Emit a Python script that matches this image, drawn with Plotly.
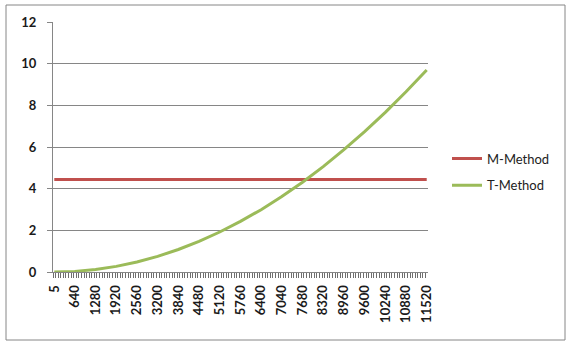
import plotly.graph_objects as go

# Data
categories = ["5", "640", "1280", "1920", "2560", "3200", "3840", "4480", "5120",
              "5760", "6400", "7040", "7680", "8320", "8960", "9600", "10240",
              "10880", "11520"]
x_values = [5, 640, 1280, 1920, 2560, 3200, 3840, 4480, 5120, 5760, 6400, 7040,
            7680, 8320, 8960, 9600, 10240, 10880, 11520]
m_method = [4.44] * 19
t_method = [0.0, 0.03, 0.12, 0.27, 0.48, 0.75, 1.08, 1.47, 1.92, 2.43, 2.99,
            3.62, 4.31, 5.06, 5.87, 6.74, 7.66, 8.65, 9.70]
y_ticks = [0, 2, 4, 6, 8, 10, 12]

W, H = 568, 343
L, R, T, B = 53, 140, 22, 71
pw, ph = W - L - R, H - T - B

FAM = "Lato, 'Open Sans', sans-serif"

fig = go.Figure()
fig.add_trace(go.Scatter(x=x_values, y=m_method, mode="lines", name="M-Method",
                         line=dict(color="#C0504D", width=3), legendgroup="m"))
fig.add_trace(go.Scatter(x=x_values, y=t_method, mode="lines", name="T-Method",
                         line=dict(color="#9BBB59", width=3), legendgroup="t"))

fig.update_layout(
    width=W, height=H,
    margin=dict(l=L, r=R, t=T, b=B),
    paper_bgcolor="white", plot_bgcolor="white",
    font=dict(family=FAM, size=12, color="#222222"),
    showlegend=True,
    legend=dict(x=(447 - L) / pw, y=(272 - 172) / ph, xanchor="left", yanchor="middle",
                font=dict(family=FAM, size=13, color="#222222"),
                tracegroupgap=7, bgcolor="rgba(0,0,0,0)"),
    xaxis=dict(range=[-35, 11560], tickmode="array", tickvals=x_values, ticktext=categories,
               tickangle=-90, ticks="", showgrid=False, zeroline=False,
               showline=True, linecolor="#868686", linewidth=1,
               ticklabelstandoff=7,
               tickfont=dict(family=FAM, size=13, color="#1a1a1a", weight="bold"),
               minor=dict(ticks="outside", tick0=-35, dtick=80, ticklen=5,
                          tickcolor="#6e6e6e", showgrid=False)),
    yaxis=dict(range=[0, 12], tickmode="array", tickvals=y_ticks,
               showgrid=True, gridcolor="#868686", gridwidth=1, zeroline=False,
               showline=True, linecolor="#868686", linewidth=1,
               ticks="outside", ticklen=5, tickcolor="#868686",
               ticklabelstandoff=8,
               tickfont=dict(family=FAM, size=13, color="#1a1a1a", weight="bold")),
)

# chart border
fig.add_shape(type="rect", xref="paper", yref="paper",
              x0=(6 - L) / pw, x1=(565 - L) / pw,
              y0=(H - B - 340) / ph, y1=(H - B - 5) / ph,
              line=dict(color="#868686", width=1), layer="below")

fig.write_html("out.html")
